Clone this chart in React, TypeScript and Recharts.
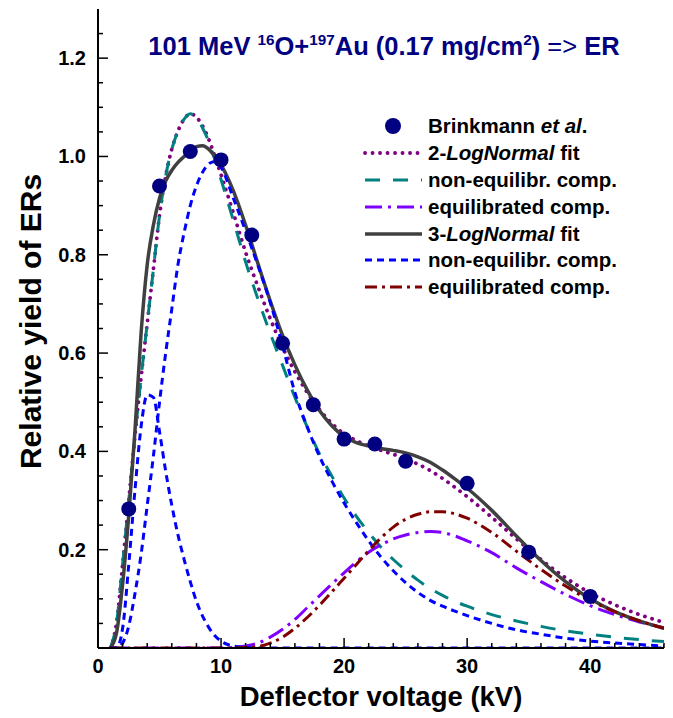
import React from "react";
import { ComposedChart, Line, Scatter, XAxis, YAxis, Legend } from "recharts";

const FONT = '"Liberation Sans", Arial, Helvetica, sans-serif';

// sampling of the fitted curves (kV)
const fitX = [
  1, 1.5, 2, 2.5, 3, 3.5, 4, 4.5, 5, 5.5, 6, 6.5, 7, 7.5, 8, 8.5, 9, 9.5, 10,
  11, 12, 13, 14, 15, 16, 17, 18, 19, 20, 21, 22, 23, 24, 25, 26, 27, 28, 29, 30,
  32, 34, 36, 38, 40, 42, 44, 46,
];

// 2-LogNormal fit and its components
const fit2LN = [
  0, 0.05, 0.17, 0.3, 0.43, 0.55, 0.66, 0.77, 0.88, 0.96, 1.015, 1.052, 1.076, 1.087, 1.08, 1.062, 1.035, 1.0, 0.963,
  0.885, 0.805, 0.735, 0.67, 0.612, 0.562, 0.52, 0.485, 0.457, 0.436, 0.422, 0.411, 0.402, 0.394, 0.385, 0.374, 0.361, 0.345, 0.327, 0.308,
  0.266, 0.222, 0.18, 0.143, 0.112, 0.088, 0.068, 0.052,
];
const nonEq2LN = [
  0, 0.05, 0.17, 0.3, 0.43, 0.55, 0.66, 0.77, 0.88, 0.96, 1.015, 1.052, 1.076, 1.087, 1.078, 1.058, 1.03, 0.993, 0.953,
  0.87, 0.785, 0.71, 0.64, 0.575, 0.51, 0.45, 0.395, 0.35, 0.305, 0.268, 0.235, 0.205, 0.18, 0.158, 0.138, 0.121, 0.107, 0.095, 0.085,
  0.068, 0.055, 0.044, 0.035, 0.028, 0.022, 0.017, 0.013,
];
const eq2LN = [
  0, 0, 0, 0, 0, 0, 0, 0, 0, 0, 0, 0, 0, 0, 0, 0, 0, 0, 0,
  0.001, 0.004, 0.01, 0.022, 0.038, 0.058, 0.082, 0.106, 0.13, 0.153, 0.175, 0.195, 0.21, 0.222, 0.23, 0.235, 0.237, 0.235, 0.228, 0.218,
  0.194, 0.163, 0.135, 0.109, 0.086, 0.068, 0.053, 0.041,
];

// 3-LogNormal fit and its components
const fit3LN = [
  0, 0.03, 0.13, 0.27, 0.44, 0.64, 0.78, 0.86, 0.915, 0.95, 0.972, 0.988, 1.0, 1.012, 1.02, 1.022, 1.015, 1.0, 0.983,
  0.93, 0.86, 0.782, 0.706, 0.636, 0.576, 0.525, 0.483, 0.452, 0.43, 0.418, 0.411, 0.406, 0.402, 0.397, 0.389, 0.378, 0.362, 0.344, 0.325,
  0.28, 0.228, 0.178, 0.135, 0.1, 0.074, 0.055, 0.04,
];
const nonEqA3LN = [
  0, 0, 0.04, 0.17, 0.32, 0.45, 0.515, 0.51, 0.44, 0.36, 0.29, 0.23, 0.18, 0.135, 0.095, 0.065, 0.042, 0.025, 0.014,
  0.004, 0.001, 0, 0, 0, 0, 0, 0, 0, 0, 0, 0, 0, 0, 0, 0, 0, 0, 0, 0,
  0, 0, 0, 0, 0, 0, 0, 0,
];
const nonEqB3LN = [
  0, 0, 0.01, 0.045, 0.11, 0.19, 0.29, 0.39, 0.5, 0.6, 0.69, 0.78, 0.845, 0.9, 0.94, 0.968, 0.985, 0.99, 0.978,
  0.915, 0.848, 0.778, 0.703, 0.615, 0.52, 0.45, 0.39, 0.34, 0.295, 0.255, 0.218, 0.185, 0.157, 0.133, 0.113, 0.097, 0.085, 0.075, 0.066,
  0.05, 0.037, 0.028, 0.02, 0.014, 0.01, 0.007, 0.004,
];
const eq3LN = [
  0, 0, 0, 0, 0, 0, 0, 0, 0, 0, 0, 0, 0, 0, 0, 0, 0, 0, 0,
  0, 0.001, 0.003, 0.01, 0.022, 0.04, 0.062, 0.087, 0.114, 0.142, 0.17, 0.198, 0.224, 0.246, 0.262, 0.272, 0.277, 0.277, 0.273, 0.264,
  0.235, 0.197, 0.16, 0.126, 0.097, 0.074, 0.055, 0.04,
];

// Brinkmann et al. data
const expX = [2.5, 5, 7.5, 10, 12.5, 15, 17.5, 20, 22.5, 25, 30, 35, 40];
const expY = [0.283, 0.94, 1.01, 0.993, 0.84, 0.62, 0.495, 0.425, 0.415, 0.38, 0.335, 0.195, 0.105];

const xTicks = [0, 2, 4, 6, 8, 10, 12, 14, 16, 18, 20, 22, 24, 26, 28, 30, 32, 34, 36, 38, 40, 42, 44, 46];
const xLabeled = [0, 10, 20, 30, 40];
const yTicks = [0.05, 0.1, 0.15, 0.2, 0.25, 0.3, 0.35, 0.4, 0.45, 0.5, 0.55, 0.6, 0.65, 0.7, 0.75, 0.8, 0.85, 0.9, 0.95, 1.0, 1.05, 1.1, 1.15, 1.2, 1.25];
const yLabeled = [0.2, 0.4, 0.6, 0.8, 1.0, 1.2];

const toPoints = (ys: number[]) => fitX.map((x, i) => ({ x, y: ys[i] }));
const expData = expX.map((x, i) => ({ x, y: expY[i] }));

const legendRows = [
  { key: "exp", label: <>Brinkmann <i>et al</i>.</> },
  { key: "fit2", label: <>2-<i>LogNormal</i> fit</>, stroke: "#800080", width: 3.8, dash: "0.1 7.4", cap: "round" },
  { key: "neq2", label: <>non-equilibr. comp.</>, stroke: "#008080", width: 3, dash: "15 13" },
  { key: "eq2", label: <>equilibrated comp.</>, stroke: "#8000ff", width: 3, dash: "17 6 3 6" },
  { key: "fit3", label: <>3-<i>LogNormal</i> fit</>, stroke: "#404040", width: 3.5 },
  { key: "neq3", label: <>non-equilibr. comp.</>, stroke: "#0000ff", width: 3, dash: "7 5" },
  { key: "eq3", label: <>equilibrated comp.</>, stroke: "#800000", width: 3, dash: "12 5 3 5" },
];

const tickText = { fontSize: 20, fontWeight: "bold" as const, fontFamily: FONT, fill: "#000" };

const BottomTick = (props: any) => {
  const { x, y, payload } = props;
  const major = xLabeled.includes(payload.value);
  return (
    <g>
      <line x1={x} x2={x} y1={y} y2={y - (major ? 10 : 5)} stroke="#000" strokeWidth={1.5} />
      {major && (
        <text x={x} y={y + 25} textAnchor="middle" {...tickText}>
          {payload.value}
        </text>
      )}
    </g>
  );
};

const TopTick = (props: any) => {
  const { x, y, payload } = props;
  const major = xLabeled.includes(payload.value);
  return <line x1={x} x2={x} y1={y} y2={y + (major ? 10 : 5)} stroke="#000" strokeWidth={1.5} />;
};

const LeftTick = (props: any) => {
  const { x, y, payload } = props;
  const major = yLabeled.includes(payload.value);
  return (
    <g>
      <line x1={x} x2={x + (major ? 10 : 5)} y1={y} y2={y} stroke="#000" strokeWidth={1.5} />
      {major && (
        <text x={x - 12} y={y + 7} textAnchor="end" {...tickText}>
          {payload.value.toFixed(1)}
        </text>
      )}
    </g>
  );
};

const RightTick = (props: any) => {
  const { x, y, payload } = props;
  const major = yLabeled.includes(payload.value);
  return <line x1={x} x2={x - (major ? 10 : 5)} y1={y} y2={y} stroke="#000" strokeWidth={1.5} />;
};

const LegendBox = () => (
  <div style={{ fontFamily: FONT, fontWeight: "bold", fontSize: 20.5, color: "#000" }}>
    {legendRows.map((r) => (
      <div key={r.key} style={{ display: "flex", alignItems: "center", height: 26.8 }}>
        <svg width={64} height={26} style={{ flex: "none" }}>
          {r.stroke ? (
            <line
              x1={3}
              x2={60}
              y1={13}
              y2={13}
              stroke={r.stroke}
              strokeWidth={r.width}
              strokeDasharray={r.dash}
              strokeLinecap={(r.cap as any) || "butt"}
            />
          ) : (
            <circle cx={31} cy={13} r={8} fill="#000080" />
          )}
        </svg>
        <span style={{ whiteSpace: "nowrap", marginLeft: 2 }}>{r.label}</span>
      </div>
    ))}
  </div>
);

const sup = { fontSize: "0.6em", position: "relative" as const, top: "-0.65em" };

export default function App() {
  return (
    <div style={{ position: "absolute", left: 0, top: 0, width: 673, height: 718, background: "#fff" }}>
      <ComposedChart width={673} height={718} margin={{ top: 9, right: 9, bottom: 0, left: 0 }}>
        <XAxis
          dataKey="x"
          type="number"
          domain={[0, 46]}
          ticks={xTicks}
          interval={0}
          height={70}
          tickSize={0}
          tickMargin={0}
          tickLine={false}
          tick={<BottomTick />}
          axisLine={{ stroke: "#000", strokeWidth: 2 }}
          allowDataOverflow
          label={{
            content: ({ viewBox }: any) => (
              <text
                x={viewBox.x + viewBox.width / 2}
                y={viewBox.y + 58}
                textAnchor="middle"
                fontSize={27.5}
                fontWeight="bold"
                fontFamily={FONT}
                fill="#000"
              >
                Deflector voltage (kV)
              </text>
            ),
          }}
        />
        <XAxis
          xAxisId="top"
          orientation="top"
          type="number"
          domain={[0, 46]}
          ticks={xTicks}
          interval={0}
          height={0}
          tickSize={0}
          tickMargin={0}
          tickLine={false}
          tick={<TopTick />}
          axisLine={{ stroke: "#000", strokeWidth: 2 }}
          allowDataOverflow
        />
        <YAxis
          dataKey="y"
          type="number"
          domain={[0, 1.3]}
          ticks={yTicks}
          interval={0}
          width={98}
          tickSize={0}
          tickMargin={0}
          tickLine={false}
          tick={<LeftTick />}
          axisLine={{ stroke: "#000", strokeWidth: 2 }}
          allowDataOverflow
          label={{
            content: ({ viewBox }: any) => {
              const cx = 41;
              const cy = viewBox.y + viewBox.height / 2 - 7;
              return (
                <text
                  x={cx}
                  y={cy}
                  transform={`rotate(-90 ${cx} ${cy})`}
                  textAnchor="middle"
                  fontSize={30}
                  fontWeight="bold"
                  fontFamily={FONT}
                  fill="#000"
                >
                  Relative yield of ERs
                </text>
              );
            },
          }}
        />
        <YAxis
          yAxisId="right"
          orientation="right"
          type="number"
          domain={[0, 1.3]}
          ticks={yTicks}
          interval={0}
          width={0}
          tickSize={0}
          tickMargin={0}
          tickLine={false}
          tick={<RightTick />}
          axisLine={{ stroke: "#000", strokeWidth: 2 }}
          allowDataOverflow
        />
        <Legend
          layout="horizontal"
          verticalAlign="middle"
          align="center"
          content={<LegendBox />}
          wrapperStyle={{ position: "absolute", left: 362, top: 113, width: "auto" }}
        />
        <Scatter
          name="Brinkmann et al."
          data={expData}
          dataKey="y"
          fill="#000080"
          isAnimationActive={false}
          shape={(p: any) => <circle cx={p.cx} cy={p.cy} r={7.5} fill="#000080" />}
        />
        <Line data={toPoints(fit2LN)} dataKey="y" type="monotone" stroke="#800080" strokeWidth={3.8}
          strokeDasharray="0.1 7.4" strokeLinecap="round" dot={false} activeDot={false} isAnimationActive={false} />
        <Line data={toPoints(nonEq2LN)} dataKey="y" type="monotone" stroke="#008080" strokeWidth={3}
          strokeDasharray="15 13" dot={false} activeDot={false} isAnimationActive={false} />
        <Line data={toPoints(eq2LN)} dataKey="y" type="monotone" stroke="#8000ff" strokeWidth={3}
          strokeDasharray="17 6 3 6" dot={false} activeDot={false} isAnimationActive={false} />
        <Line data={toPoints(fit3LN)} dataKey="y" type="monotone" stroke="#404040" strokeWidth={3.5}
          dot={false} activeDot={false} isAnimationActive={false} />
        <Line data={toPoints(nonEqA3LN)} dataKey="y" type="monotone" stroke="#0000ff" strokeWidth={3}
          strokeDasharray="7 5" dot={false} activeDot={false} isAnimationActive={false} />
        <Line data={toPoints(nonEqB3LN)} dataKey="y" type="monotone" stroke="#0000ff" strokeWidth={3}
          strokeDasharray="7 5" dot={false} activeDot={false} isAnimationActive={false} />
        <Line data={toPoints(eq3LN)} dataKey="y" type="monotone" stroke="#800000" strokeWidth={3}
          strokeDasharray="12 5 3 5" dot={false} activeDot={false} isAnimationActive={false} />
      </ComposedChart>
      <div
        style={{
          position: "absolute",
          left: 98,
          width: 572,
          top: 31,
          textAlign: "center",
          color: "#000080",
          fontFamily: FONT,
          fontWeight: "bold",
          fontSize: 25.5,
          lineHeight: "30px",
          whiteSpace: "nowrap",
        }}
      >
        101 MeV <span style={sup}>16</span>O+<span style={sup}>197</span>Au (0.17 mg/cm<span style={sup}>2</span>){" "}
        <span style={{ fontWeight: "normal" }}>=&gt;</span> ER
      </div>
    </div>
  );
}
